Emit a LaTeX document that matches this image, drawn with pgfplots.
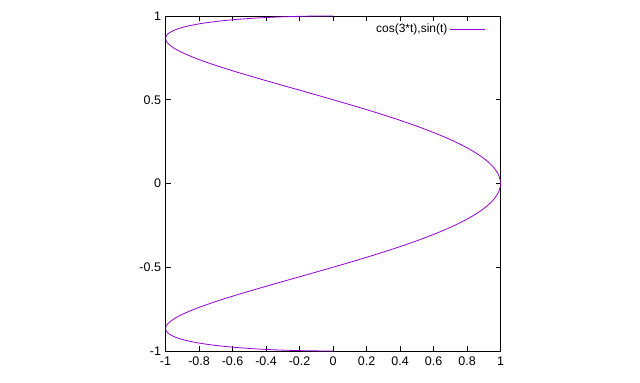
\documentclass[border=0pt]{standalone}
\usepackage{pgfplots}
\pgfplotsset{compat=1.18}
\usepackage{fontspec}
\setmainfont{Liberation Sans}
\definecolor{gpurple}{HTML}{9400D3}
\begin{document}
\begin{tikzpicture}
\begin{axis}[
  scale only axis, width=335pt, height=335pt,
  at={(0,0)}, anchor=south west,
  xmin=-1, xmax=1, ymin=-1, ymax=1,
  xtick={-1,-0.8,...,1}, ytick={-1,-0.5,0,0.5,1},
  xticklabels={-1,-0.8,-0.6,-0.4,-0.2,0,0.2,0.4,0.6,0.8,1},
  yticklabels={-1,-0.5,0,0.5,1},
  tick align=inside, major tick length=5pt,
  tick style={black, line width=0.6pt},
  axis line style={black, line width=0.6pt},
  minor tick num=0,
  ticklabel style={font=\fontsize{12.5}{14}\selectfont},
  xticklabel style={yshift=-2pt},
  yticklabel style={xshift=-1pt},
  /pgf/number format/assume math mode=true,
  legend style={draw=none, fill=none, font=\fontsize{12}{14}\selectfont,
    at={(rel axis cs:0.958,0.985)}, anchor=north east, inner sep=1pt},
  legend plot pos=right, legend cell align=right,
  legend image code/.code={\draw[#1] (5pt,0pt) -- (40pt,0pt);},
]
\addplot[gpurple, line width=0.8pt, smooth] coordinates {
(0,-1) (-0.15643,-0.99863) (-0.30902,-0.99452) (-0.45399,-0.98769) (-0.58779,-0.97815)
(-0.70711,-0.96593) (-0.80902,-0.95106) (-0.89101,-0.93358) (-0.95106,-0.91355) (-0.98769,-0.89101)
(-1,-0.86603) (-0.98769,-0.83867) (-0.95106,-0.80902) (-0.89101,-0.77715) (-0.80902,-0.74314)
(-0.70711,-0.70711) (-0.58779,-0.66913) (-0.45399,-0.62932) (-0.30902,-0.58779) (-0.15643,-0.54464)
(0,-0.5) (0.15643,-0.45399) (0.30902,-0.40674) (0.45399,-0.35837) (0.58779,-0.30902)
(0.70711,-0.25882) (0.80902,-0.20791) (0.89101,-0.15643) (0.95106,-0.10453) (0.98769,-0.05234)
(1,0)
(0.98769,0.05234) (0.95106,0.10453) (0.89101,0.15643) (0.80902,0.20791) (0.70711,0.25882)
(0.58779,0.30902) (0.45399,0.35837) (0.30902,0.40674) (0.15643,0.45399) (0,0.5)
(-0.15643,0.54464) (-0.30902,0.58779) (-0.45399,0.62932) (-0.58779,0.66913) (-0.70711,0.70711)
(-0.80902,0.74314) (-0.89101,0.77715) (-0.95106,0.80902) (-0.98769,0.83867) (-1,0.86603)
(-0.98769,0.89101) (-0.95106,0.91355) (-0.89101,0.93358) (-0.80902,0.95106) (-0.70711,0.96593)
(-0.58779,0.97815) (-0.45399,0.98769) (-0.30902,0.99452) (-0.15643,0.99863) (0,1)
};
\addlegendentry{cos(3*t),sin(t)}
\coordinate (bl) at (axis cs:-1.9880,-1.1905);
\coordinate (tr) at (axis cs:1.8323,1.0952);
\end{axis}
\path (bl) rectangle (tr);
\end{tikzpicture}
\end{document}
